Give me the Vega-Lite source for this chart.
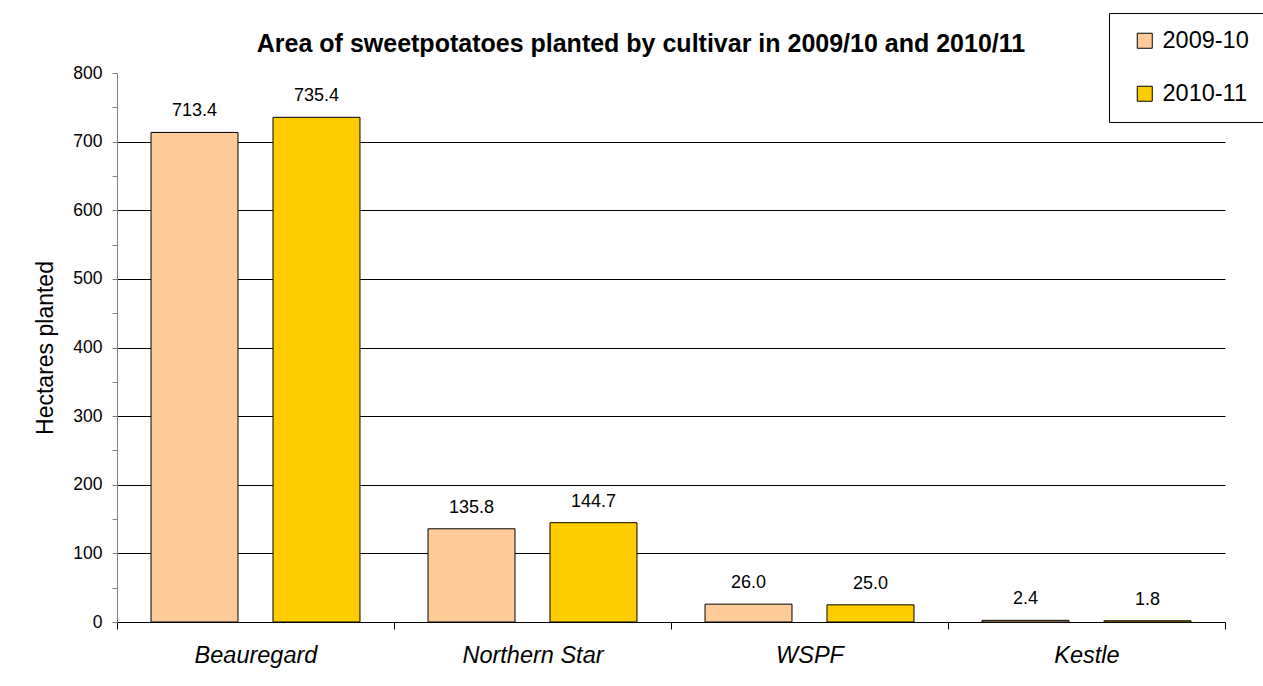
{
  "$schema": "https://vega.github.io/schema/vega-lite/v6.json",
  "width": 1108,
  "height": 549,
  "autosize": {"type": "none"},
  "padding": {"left": 117, "top": 73, "right": 38, "bottom": 64},
  "background": "white",
  "title": {
    "text": "Area of sweetpotatoes planted by cultivar in 2009/10 and 2010/11",
    "font": "Liberation Sans",
    "fontSize": 25,
    "fontWeight": "bold",
    "color": "black",
    "anchor": "middle",
    "dx": -30,
    "offset": -44
  },
  "data": {
    "values": [
      {"cultivar": "Beauregard", "season": "2009-10", "hectares": 713.4},
      {"cultivar": "Beauregard", "season": "2010-11", "hectares": 735.4},
      {"cultivar": "Northern Star", "season": "2009-10", "hectares": 135.8},
      {"cultivar": "Northern Star", "season": "2010-11", "hectares": 144.7},
      {"cultivar": "WSPF", "season": "2009-10", "hectares": 26.0},
      {"cultivar": "WSPF", "season": "2010-11", "hectares": 25.0},
      {"cultivar": "Kestle", "season": "2009-10", "hectares": 2.4},
      {"cultivar": "Kestle", "season": "2010-11", "hectares": 1.8}
    ]
  },
  "encoding": {
    "x": {
      "field": "cultivar",
      "type": "nominal",
      "sort": ["Beauregard", "Northern Star", "WSPF", "Kestle"],
      "scale": {"paddingInner": 0, "paddingOuter": 0},
      "axis": {
        "title": null,
        "labelAngle": 0,
        "labelFont": "Liberation Sans",
        "labelFontSize": 23.5,
        "labelFontStyle": "italic",
        "labelColor": "black",
        "labelPadding": 14,
        "tickBand": "extent",
        "tickSize": 7,
        "tickColor": "black",
        "domainColor": "black",
        "grid": false
      }
    },
    "xOffset": {
      "field": "season",
      "type": "nominal",
      "scale": {"paddingInner": 0.287, "paddingOuter": 0.279}
    },
    "y": {
      "field": "hectares",
      "type": "quantitative",
      "scale": {"domain": [0, 800], "nice": false},
      "axis": {
        "title": "Hectares planted",
        "titleFont": "Liberation Sans",
        "titleFontSize": 23,
        "titleFontWeight": "normal",
        "titleColor": "black",
        "titlePadding": 15,
        "values": [0, 50, 100, 150, 200, 250, 300, 350, 400, 450, 500, 550, 600, 650, 700, 750, 800],
        "labelExpr": "datum.value % 100 == 0 ? datum.label : ''",
        "labelFont": "Liberation Sans",
        "labelFontSize": 17.5,
        "labelColor": "black",
        "labelPadding": 10,
        "tickSize": 5,
        "tickColor": "#808080",
        "domainColor": "#808080",
        "grid": true,
        "gridColor": "black",
        "gridOpacity": {"condition": {"test": "datum.value % 100 != 0 || datum.value == 800", "value": 0}, "value": 1}
      }
    }
  },
  "layer": [
    {
      "mark": {"type": "bar", "stroke": "black", "strokeWidth": 1},
      "encoding": {
        "color": {
          "field": "season",
          "type": "nominal",
          "scale": {"domain": ["2009-10", "2010-11"], "range": ["#FFCC99", "#FFCC00"]},
          "legend": {
            "title": null,
            "orient": "none",
            "legendX": 992,
            "legendY": -60,
            "strokeColor": "black",
            "fillColor": "white",
            "padding": 16,
            "symbolOffset": 8,
            "symbolType": "square",
            "symbolSize": 225,
            "symbolStrokeColor": "black",
            "symbolStrokeWidth": 1,
            "labelFont": "Liberation Sans",
            "labelFontSize": 23.5,
            "labelColor": "black",
            "labelOffset": 6,
            "rowPadding": 28
          }
        }
      }
    },
    {
      "mark": {"type": "text", "font": "Liberation Sans", "fontSize": 18, "color": "black", "baseline": "bottom", "dy": -12},
      "encoding": {
        "text": {"field": "hectares", "type": "quantitative", "format": ".1f"}
      }
    }
  ],
  "config": {
    "view": {"stroke": null}
  }
}
